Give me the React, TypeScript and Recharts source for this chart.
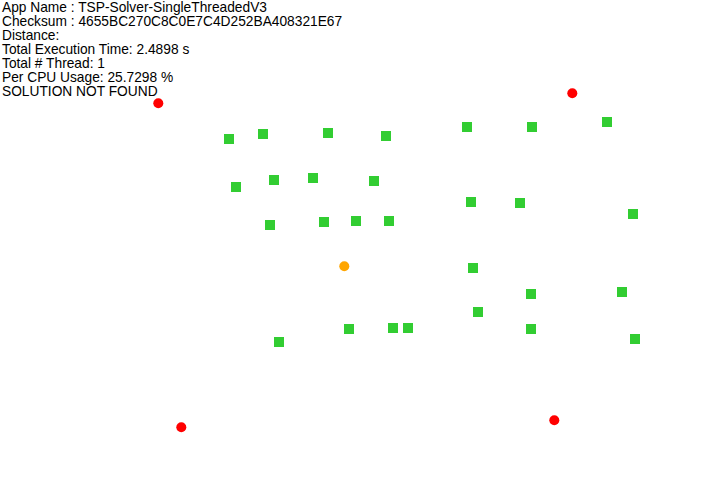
import React from "react";
import { ScatterChart, Scatter, XAxis, YAxis } from "recharts";

const infoLines = [
  "App Name : TSP-Solver-SingleThreadedV3",
  "Checksum : 4655BC270C8C0E7C4D252BA408321E67",
  "Distance:",
  "Total Execution Time: 2.4898 s",
  "Total # Thread: 1",
  "Per CPU Usage: 25.7298 %",
  "SOLUTION NOT FOUND",
];

// city coordinates (canvas units)
const cityX = [229, 263, 328, 386, 467, 532, 607, 236, 274, 313, 374, 471, 520, 633, 270, 324, 356, 389, 473, 531, 622, 478, 349, 393, 408, 531, 279, 635];
const cityY = [139, 134, 133, 136, 127, 127, 122, 187, 180, 178, 181, 202, 203, 214, 225, 222, 221, 221, 268, 294, 292, 312, 329, 328, 328, 329, 342, 339];

const boundX = [158.3, 572.3, 181.3, 554.3];
const boundY = [103.3, 93.3, 427.3, 420.3];

const startX = [344.3];
const startY = [266.3];

const cities = cityX.map((x, i) => ({ x, y: cityY[i] }));
const bounds = boundX.map((x, i) => ({ x, y: boundY[i] }));
const start = startX.map((x, i) => ({ x, y: startY[i] }));

const Square = (props: any) => (
  <rect x={props.cx - 5} y={props.cy - 5} width={10} height={10} fill="#32CD32" />
);
const RedDot = (props: any) => <circle cx={props.cx} cy={props.cy} r={5} fill="#FF0000" />;
const OrangeDot = (props: any) => <circle cx={props.cx} cy={props.cy} r={5} fill="#FFA500" />;

export default function App() {
  return (
    <div style={{ position: "absolute", left: 0, top: 0, width: 726, height: 500, background: "#fff" }}>
      <ScatterChart width={726} height={500} margin={{ top: 0, right: 0, bottom: 0, left: 0 }}>
        <XAxis type="number" dataKey="x" domain={[0, 726]} hide allowDataOverflow />
        <YAxis type="number" dataKey="y" domain={[0, 500]} reversed hide allowDataOverflow />
        <Scatter data={cities} shape={Square} isAnimationActive={false} />
        <Scatter data={bounds} shape={RedDot} isAnimationActive={false} />
        <Scatter data={start} shape={OrangeDot} isAnimationActive={false} />
      </ScatterChart>
      <div
        style={{
          position: "absolute",
          left: 2,
          top: 1,
          fontFamily: "Arial, 'Liberation Sans', sans-serif",
          fontSize: 13.75,
          lineHeight: "14px",
          color: "#000",
          whiteSpace: "pre",
        }}
      >
        {infoLines.map((l, i) => (
          <div key={i} style={{ height: 14, overflow: "visible" }}>{l}</div>
        ))}
      </div>
    </div>
  );
}
